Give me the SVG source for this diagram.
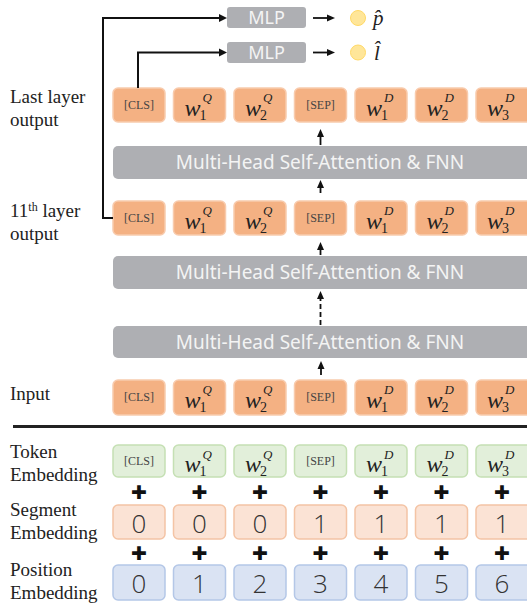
<svg xmlns="http://www.w3.org/2000/svg" width="527" height="607" viewBox="0 0 527 607">
<defs>
<style>
.lbl{font-family:"Liberation Serif","Times New Roman",serif;font-size:19px;fill:#222}
.tok{fill:#f4b183;stroke:#f8cbad;stroke-width:1.5}
.grn{fill:#e2efda;stroke:#c5e0b4;stroke-width:1.5}
.seg{fill:#fbe3d5;stroke:#f4c4a5;stroke-width:1.5}
.pos{fill:#dae3f3;stroke:#b4c7e7;stroke-width:1.5}
.bar{fill:#aeafb3}
.bartx{font-family:"Noto Sans","Open Sans",sans-serif;font-size:19px;fill:#f4f4f4;text-anchor:middle}
.mlptx{font-family:"Noto Sans","Open Sans",sans-serif;font-size:18px;fill:#f4f4f4;text-anchor:middle}
.sp{font-family:"Liberation Serif","Times New Roman",serif;font-size:12px;fill:#444;text-anchor:middle}
.w{font-family:"Liberation Serif","Times New Roman",serif;font-style:italic;font-size:24px;fill:#222}
.sub{font-family:"Liberation Serif","Times New Roman",serif;font-size:14px;fill:#222}
.sup{font-family:"Liberation Serif","Times New Roman",serif;font-style:italic;font-size:13px;fill:#222}
.num{font-family:"Open Sans","Noto Sans",sans-serif;font-weight:300;font-size:26px;fill:#333;text-anchor:middle}
.plus{font-family:"DejaVu Sans",sans-serif;font-size:19px;fill:#111;text-anchor:middle}
.ln{fill:none;stroke:#111;stroke-width:2}
.ah{fill:#111}
.sh{stroke:#111;stroke-width:1.8}
</style>
</defs>
<rect width="527" height="607" fill="#fff"/>

<!-- row labels -->
<g id="labels">
<text class="lbl" x="10" y="103">Last layer</text>
<text class="lbl" x="10" y="126">output</text>
<text class="lbl" x="10" y="217">11<tspan font-size="12" dy="-6">th</tspan><tspan dy="6"> layer</tspan></text>
<text class="lbl" x="10" y="240">output</text>
<text class="lbl" x="10" y="400">Input</text>
<text class="lbl" x="10" y="458">Token</text>
<text class="lbl" x="10" y="481">Embedding</text>
<text class="lbl" x="10" y="516">Segment</text>
<text class="lbl" x="10" y="539">Embedding</text>
<text class="lbl" x="10" y="576">Position</text>
<text class="lbl" x="10" y="599">Embedding</text>
</g>

<!-- MLP heads -->
<g id="mlp1">
<rect class="bar" x="227" y="7" width="79" height="21" rx="3"/>
<text class="mlptx" x="266.5" y="24">MLP</text>
</g>
<g id="mlp2">
<rect class="bar" x="227" y="42" width="79" height="21" rx="3"/>
<text class="mlptx" x="266.5" y="59">MLP</text>
</g>
<g id="out-p">
<circle cx="358" cy="18" r="7.5" fill="#ffe699" stroke="#ffd966" stroke-width="1"/>
<text x="373" y="25" font-family="Liberation Serif, serif" font-style="italic" font-size="21" fill="#222">p̂</text>
</g>
<g id="out-l">
<circle cx="358" cy="52.5" r="7.5" fill="#ffe699" stroke="#ffd966" stroke-width="1"/>
<text x="374" y="60" font-family="Liberation Serif, serif" font-style="italic" font-size="21" fill="#222">l̂</text>
</g>

<!-- Last layer output row -->
<g id="last-row">
<rect class="tok" x="113" y="88" width="52" height="34" rx="5"/>
<text class="sp" x="139" y="109">[CLS]</text>
<rect class="tok" x="173.5" y="88" width="52" height="34" rx="5"/>
<text class="w" x="184.5" y="116">w</text><text class="sub" x="199.5" y="120">1</text><text class="sup" x="202.5" y="102">Q</text>
<rect class="tok" x="234" y="88" width="52" height="34" rx="5"/>
<text class="w" x="245" y="116">w</text><text class="sub" x="260" y="120">2</text><text class="sup" x="263" y="102">Q</text>
<rect class="tok" x="294.5" y="88" width="52" height="34" rx="5"/>
<text class="sp" x="320.5" y="109">[SEP]</text>
<rect class="tok" x="355" y="88" width="52" height="34" rx="5"/>
<text class="w" x="366" y="116">w</text><text class="sub" x="381" y="120">1</text><text class="sup" x="384" y="102">D</text>
<rect class="tok" x="415.5" y="88" width="52" height="34" rx="5"/>
<text class="w" x="426.5" y="116">w</text><text class="sub" x="441.5" y="120">2</text><text class="sup" x="444.5" y="102">D</text>
<rect class="tok" x="476" y="88" width="60" height="34" rx="5"/>
<text class="w" x="487" y="116">w</text><text class="sub" x="502" y="120">3</text><text class="sup" x="505" y="102">D</text>
</g>

<g id="bar-top">
<rect class="bar" x="113" y="146" width="430" height="33" rx="5"/>
<text class="bartx" x="320" y="169">Multi-Head Self-Attention &amp; FNN</text>
</g>

<!-- 11th layer row -->
<g id="row11">
<rect class="tok" x="113" y="201" width="52" height="34" rx="5"/>
<text class="sp" x="139" y="222">[CLS]</text>
<rect class="tok" x="173.5" y="201" width="52" height="34" rx="5"/>
<text class="w" x="184.5" y="229">w</text><text class="sub" x="199.5" y="233">1</text><text class="sup" x="202.5" y="215">Q</text>
<rect class="tok" x="234" y="201" width="52" height="34" rx="5"/>
<text class="w" x="245" y="229">w</text><text class="sub" x="260" y="233">2</text><text class="sup" x="263" y="215">Q</text>
<rect class="tok" x="294.5" y="201" width="52" height="34" rx="5"/>
<text class="sp" x="320.5" y="222">[SEP]</text>
<rect class="tok" x="355" y="201" width="52" height="34" rx="5"/>
<text class="w" x="366" y="229">w</text><text class="sub" x="381" y="233">1</text><text class="sup" x="384" y="215">D</text>
<rect class="tok" x="415.5" y="201" width="52" height="34" rx="5"/>
<text class="w" x="426.5" y="229">w</text><text class="sub" x="441.5" y="233">2</text><text class="sup" x="444.5" y="215">D</text>
<rect class="tok" x="476" y="201" width="60" height="34" rx="5"/>
<text class="w" x="487" y="229">w</text><text class="sub" x="502" y="233">3</text><text class="sup" x="505" y="215">D</text>
</g>

<g id="bar-mid">
<rect class="bar" x="113" y="256" width="430" height="33" rx="5"/>
<text class="bartx" x="320" y="279">Multi-Head Self-Attention &amp; FNN</text>
</g>
<g id="bar-low">
<rect class="bar" x="113" y="326" width="430" height="32" rx="5"/>
<text class="bartx" x="320" y="349">Multi-Head Self-Attention &amp; FNN</text>
</g>

<!-- Input row -->
<g id="input-row">
<rect class="tok" x="113" y="380" width="52" height="35" rx="5"/>
<text class="sp" x="139" y="401">[CLS]</text>
<rect class="tok" x="173.5" y="380" width="52" height="35" rx="5"/>
<text class="w" x="184.5" y="408">w</text><text class="sub" x="199.5" y="412">1</text><text class="sup" x="202.5" y="394">Q</text>
<rect class="tok" x="234" y="380" width="52" height="35" rx="5"/>
<text class="w" x="245" y="408">w</text><text class="sub" x="260" y="412">2</text><text class="sup" x="263" y="394">Q</text>
<rect class="tok" x="294.5" y="380" width="52" height="35" rx="5"/>
<text class="sp" x="320.5" y="401">[SEP]</text>
<rect class="tok" x="355" y="380" width="52" height="35" rx="5"/>
<text class="w" x="366" y="408">w</text><text class="sub" x="381" y="412">1</text><text class="sup" x="384" y="394">D</text>
<rect class="tok" x="415.5" y="380" width="52" height="35" rx="5"/>
<text class="w" x="426.5" y="408">w</text><text class="sub" x="441.5" y="412">2</text><text class="sup" x="444.5" y="394">D</text>
<rect class="tok" x="476" y="380" width="60" height="35" rx="5"/>
<text class="w" x="487" y="408">w</text><text class="sub" x="502" y="412">3</text><text class="sup" x="505" y="394">D</text>
</g>

<line x1="13" y1="426.5" x2="527" y2="426.5" stroke="#222" stroke-width="3"/>

<!-- Token embedding -->
<g id="token-emb">
<rect class="grn" x="113" y="445" width="52" height="32" rx="5"/>
<text class="sp" x="139" y="465">[CLS]</text>
<rect class="grn" x="173.5" y="445" width="52" height="32" rx="5"/>
<text class="w" x="184.5" y="472">w</text><text class="sub" x="199.5" y="476">1</text><text class="sup" x="202.5" y="459">Q</text>
<rect class="grn" x="234" y="445" width="52" height="32" rx="5"/>
<text class="w" x="245" y="472">w</text><text class="sub" x="260" y="476">2</text><text class="sup" x="263" y="459">Q</text>
<rect class="grn" x="294.5" y="445" width="52" height="32" rx="5"/>
<text class="sp" x="320.5" y="465">[SEP]</text>
<rect class="grn" x="355" y="445" width="52" height="32" rx="5"/>
<text class="w" x="366" y="472">w</text><text class="sub" x="381" y="476">1</text><text class="sup" x="384" y="459">D</text>
<rect class="grn" x="415.5" y="445" width="52" height="32" rx="5"/>
<text class="w" x="426.5" y="472">w</text><text class="sub" x="441.5" y="476">2</text><text class="sup" x="444.5" y="459">D</text>
<rect class="grn" x="476" y="445" width="60" height="32" rx="5"/>
<text class="w" x="487" y="472">w</text><text class="sub" x="502" y="476">3</text><text class="sup" x="505" y="459">D</text>
</g>

<g id="plus-1">
<text class="plus" x="139" y="499">✚</text><text class="plus" x="199.5" y="499">✚</text><text class="plus" x="260" y="499">✚</text><text class="plus" x="320.5" y="499">✚</text><text class="plus" x="381" y="499">✚</text><text class="plus" x="441.5" y="499">✚</text><text class="plus" x="502" y="499">✚</text>
</g>

<!-- Segment embedding -->
<g id="segment-emb">
<rect class="seg" x="113" y="505" width="52" height="34" rx="5"/><text class="num" x="139" y="533">0</text>
<rect class="seg" x="173.5" y="505" width="52" height="34" rx="5"/><text class="num" x="199.5" y="533">0</text>
<rect class="seg" x="234" y="505" width="52" height="34" rx="5"/><text class="num" x="260" y="533">0</text>
<rect class="seg" x="294.5" y="505" width="52" height="34" rx="5"/><text class="num" x="320.5" y="533">1</text>
<rect class="seg" x="355" y="505" width="52" height="34" rx="5"/><text class="num" x="381" y="533">1</text>
<rect class="seg" x="415.5" y="505" width="52" height="34" rx="5"/><text class="num" x="441.5" y="533">1</text>
<rect class="seg" x="476" y="505" width="60" height="34" rx="5"/><text class="num" x="502" y="533">1</text>
</g>

<g id="plus-2">
<text class="plus" x="139" y="560">✚</text><text class="plus" x="199.5" y="560">✚</text><text class="plus" x="260" y="560">✚</text><text class="plus" x="320.5" y="560">✚</text><text class="plus" x="381" y="560">✚</text><text class="plus" x="441.5" y="560">✚</text><text class="plus" x="502" y="560">✚</text>
</g>

<!-- Position embedding -->
<g id="position-emb">
<rect class="pos" x="113" y="565" width="52" height="35" rx="5"/><text class="num" x="139" y="593">0</text>
<rect class="pos" x="173.5" y="565" width="52" height="35" rx="5"/><text class="num" x="199.5" y="593">1</text>
<rect class="pos" x="234" y="565" width="52" height="35" rx="5"/><text class="num" x="260" y="593">2</text>
<rect class="pos" x="294.5" y="565" width="52" height="35" rx="5"/><text class="num" x="320.5" y="593">3</text>
<rect class="pos" x="355" y="565" width="52" height="35" rx="5"/><text class="num" x="381" y="593">4</text>
<rect class="pos" x="415.5" y="565" width="52" height="35" rx="5"/><text class="num" x="441.5" y="593">5</text>
<rect class="pos" x="476" y="565" width="60" height="35" rx="5"/><text class="num" x="502" y="593">6</text>
</g>

<!-- connectors -->
<g id="connectors">
<path class="ln" d="M113,218 H103 V18 H220"/>
<path class="ah" d="M219,14 L227,18 L219,22 z"/>
<path class="ln" d="M138,88 V52.5 H220"/>
<path class="ah" d="M219,48.5 L227,52.5 L219,56.5 z"/>
<line class="sh" x1="313" y1="18" x2="328" y2="18"/>
<path class="ah" d="M327,14.5 L335,18 L327,21.5 z"/>
<line class="sh" x1="313" y1="52.5" x2="328" y2="52.5"/>
<path class="ah" d="M327,49 L335,52.5 L327,56 z"/>
<line class="sh" x1="320.5" y1="145" x2="320.5" y2="136"/>
<path class="ah" d="M317,137 L320.5,129 L324,137 z"/>
<line class="sh" x1="320.5" y1="193" x2="320.5" y2="187"/>
<path class="ah" d="M317,188 L320.5,180 L324,188 z"/>
<line class="sh" x1="320.5" y1="255" x2="320.5" y2="249"/>
<path class="ah" d="M317,250 L320.5,242 L324,250 z"/>
<line class="sh" x1="320.5" y1="325" x2="320.5" y2="298" stroke-dasharray="5,3"/>
<path class="ah" d="M317,299 L320.5,291 L324,299 z"/>
<line class="sh" x1="321" y1="375" x2="321" y2="368"/>
<path class="ah" d="M317.5,369 L321,361 L324.5,369 z"/>
</g>
</svg>
